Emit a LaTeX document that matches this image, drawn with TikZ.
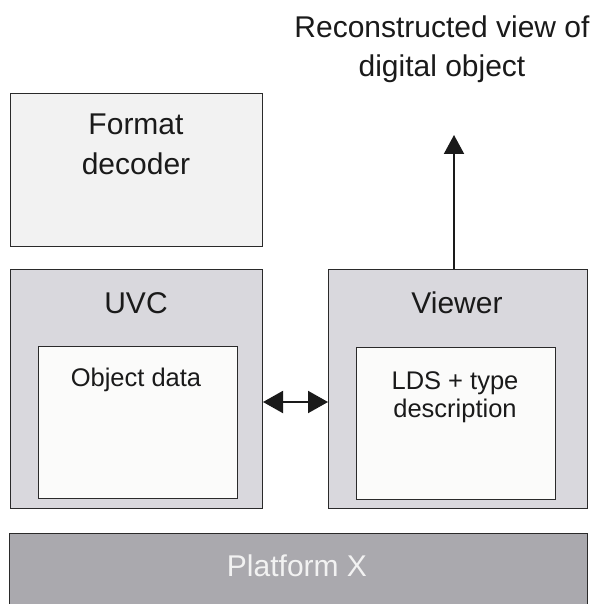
\documentclass[tikz,border=0pt]{standalone}
\usepackage{fontspec}
\setmainfont{Liberation Sans}
\usetikzlibrary{arrows.meta, positioning}
\definecolor{CPale}{HTML}{F2F2F2}
\definecolor{CLav}{HTML}{D9D8DD}
\definecolor{CInner}{HTML}{FBFBFA}
\definecolor{CPlat}{HTML}{AAA9AE}
\definecolor{CLine}{HTML}{2A2A2A}
\definecolor{CText}{HTML}{1A1A1A}

\begin{document}
\begin{tikzpicture}[x=1pt, y=-1pt,
    box/.style={draw=CLine, line width=1pt, anchor=north west, inner sep=0pt},
    big/.style={font=\fontsize{30}{40}\selectfont, text=CText, align=center, inner sep=0pt},
    small/.style={font=\fontsize{25.5}{28}\selectfont, text=CText, align=center, inner sep=0pt},
    link/.style={line width=2pt, CText}]
    \useasboundingbox (0,0) rectangle (592,604);

    % Format decoder (top left)
    \node[box, fill=CPale, minimum width=252pt, minimum height=153pt] (decoder) at (10,93) {};
    \node[big] (decoderlabel) at (136,144) {Format\\decoder};

    % UVC with object data
    \node[box, fill=CLav, minimum width=252pt, minimum height=239pt] (uvc) at (10,269) {};
    \node[big] (uvclabel) at (136,303) {UVC};
    \node[box, fill=CInner, minimum width=199pt, minimum height=152pt] (objdata) at (38,346) {};
    \node[small, anchor=base] (objlabel) at (136,386) {Object data};

    % Viewer with LDS
    \node[box, fill=CLav, minimum width=259pt, minimum height=239pt] (viewer) at (328,269) {};
    \node[big] (viewerlabel) at (457,303) {Viewer};
    \node[box, fill=CInner, minimum width=199pt, minimum height=152pt] (lds) at (356,347) {};
    \node[small] (ldslabel) at (455,397) {LDS + type\\description};

    % Platform X (bottom)
    \node[box, fill=CPlat, minimum width=578pt, minimum height=80pt] (platform) at (9,533) {};
    \node[big, text=CPale] (platformlabel) at (297,566) {Platform X};

    % Output of the viewer
    \node[big, font=\fontsize{30}{39}\selectfont] (result) at (442,49) {Reconstructed view of\\digital object};
    \coordinate (resulttip) at (454,135);

    % Arrows
    \draw[link, -{Triangle[length=19pt, width=20pt]}] (viewer.north -| resulttip) -- (resulttip);
    \draw[link, {Triangle[length=20pt, width=22pt]}-{Triangle[length=20pt, width=22pt]}]
        ([yshift=-13pt]uvc.east) -- ([yshift=-13pt]viewer.west);
\end{tikzpicture}
\end{document}
